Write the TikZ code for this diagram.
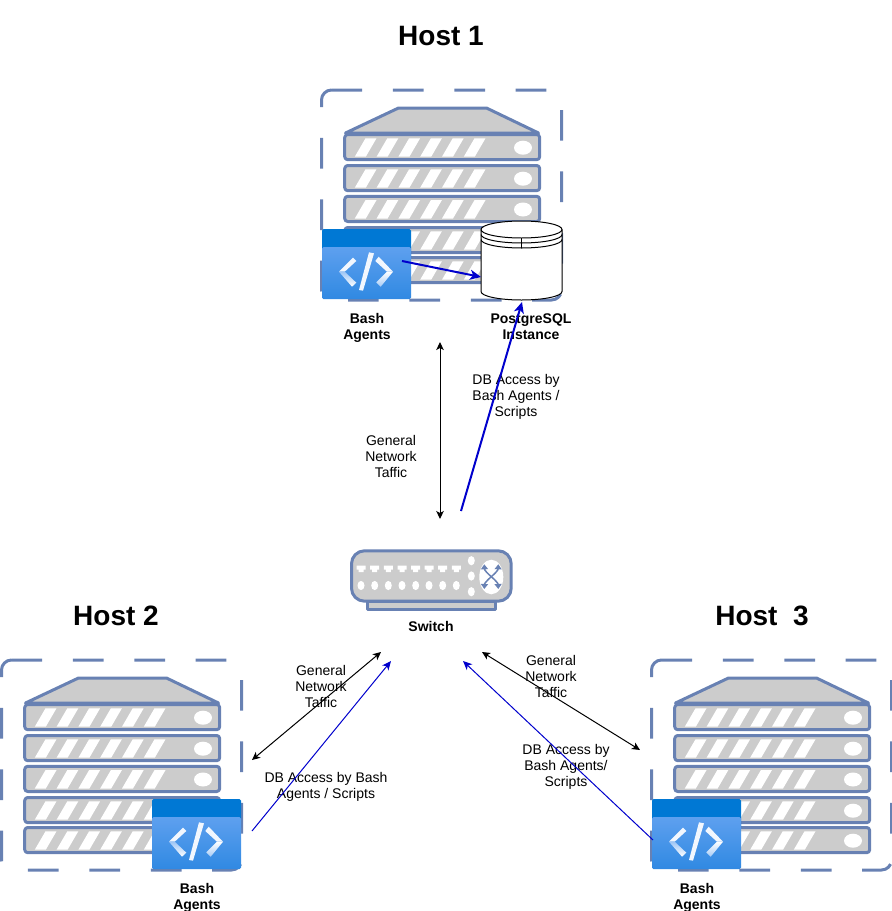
\documentclass[tikz,border=0pt]{standalone}
\usepackage{fontspec}
\setmainfont{Liberation Sans}
\usetikzlibrary{arrows.meta}
\definecolor{rackblue}{HTML}{6881B3}
\definecolor{rackgrey}{HTML}{CCCCCC}
\definecolor{iconhead}{HTML}{0078D4}
\definecolor{icontop}{HTML}{5EA0EF}
\definecolor{iconlow}{HTML}{3089E2}
\definecolor{linkblue}{HTML}{0000CC}
\tikzset{
  x=1pt,y=-1pt,
  rackline/.style={draw=rackblue,line width=3pt,line join=round},
  unitbox/.style={rackline,fill=rackgrey,rounded corners=3pt},
  hostdash/.style={draw=rackblue,line width=3pt,dash pattern=on 30.7pt off 30.7pt},
  glyph/.style={fill=white!92!icontop},
  lbl/.style={font=\fontsize{14}{16}\selectfont,align=center,inner sep=0pt,text=black},
  blbl/.style={lbl,font=\fontsize{14}{16}\selectfont\bfseries},
  title/.style={font=\fontsize{28}{32}\selectfont\bfseries,inner sep=0pt},
  netarrow/.style={draw=black,line width=1pt,{Stealth[length=8pt,width=7.5pt,inset=2pt]}-{Stealth[length=8pt,width=7.5pt,inset=2pt]}},
  dbthick/.style={draw=linkblue,line width=2pt,-{Stealth[length=11pt,width=10pt,inset=3pt]}},
  dbthin/.style={draw=linkblue,line width=1pt,-{Stealth[length=9pt,width=8pt,inset=2.5pt]}},
  crossarrow/.style={draw=rackblue,line width=1.5pt,-{Triangle[length=5pt,width=7pt]}},
  rackunit/.pic={
    \draw[unitbox] (23.2,0) rectangle (218.2,25.2);
    \foreach \i in {0,...,5}
      \fill[white] ({33.3+21.8*\i},22.2) -- ({44+21.8*\i},3.8) -- ({55+21.8*\i},3.8) -- ({44.3+21.8*\i},22.2) -- cycle;
    \fill[white] (201.5,13.2) ellipse [x radius=9pt,y radius=7pt];
  },
  hostrack/.pic={
    \draw[hostdash] (10,0) -- (230,0) .. controls (235.5,0) and (240,4.5) .. (240,10)
      -- (240,200) .. controls (240,205.5) and (235.5,210) .. (230,210)
      -- (10,210) .. controls (4.5,210) and (0,205.5) .. (0,200)
      -- (0,10) .. controls (0,4.5) and (4.5,0) .. (10,0);
    \draw[rackline,fill=rackgrey] (24,43) -- (77,18) -- (165,18) -- (217,43) -- cycle;
    \pic at (0,44.5) {rackunit};
    \pic at (0,75.5) {rackunit};
    \pic at (0,106.3) {rackunit};
    \pic at (0,137.5) {rackunit};
    \pic at (0,167.5) {rackunit};
  },
  codeicon/.pic={
    \fill[iconhead,rounded corners=1.5pt] (0,0) rectangle (89,30);
    \shade[top color=icontop,middle color=icontop!92!iconlow,bottom color=iconlow,rounded corners=1.5pt] (0,18) -- (89,18) -- (89,70) -- (0,70) -- cycle;
    % left chevron
    \fill[glyph] (17,42.7) -- (31,28.7) -- (34.3,32) -- (22.7,42.7) -- cycle;
    \shade[top color=icontop!60!white,bottom color=white]
      (17,42.7) -- (22.7,42.7) -- (34.3,53.7) -- (30,57.7) -- cycle;
    % slash
    \fill[glyph] (47,23.3) -- (52,24.3) -- (41,61.7) -- (37,61) -- cycle;
    % right chevron
    \fill[glyph] (71,42.7) -- (56.7,27.7) -- (53.3,32) -- (65,42.7) -- cycle;
    \shade[top color=white,bottom color=icontop!55!white]
      (71,42.7) -- (65,42.7) -- (54.3,53.3) -- (58.7,57.7) -- cycle;
  },
  porttab/.pic={
    \fill[white] (-4.5,0) -- (4.5,0) -- (4.5,4) -- (2.5,4) -- (2.5,6.5) -- (-2.5,6.5) -- (-2.5,4) -- (-4.5,4) -- cycle;
    \fill[white] (0,20) ellipse [x radius=3.5pt,y radius=4.6pt];
  },
}
\begin{document}
\begin{tikzpicture}
\useasboundingbox (0,0) rectangle (892,911);

% host 1
\pic at (321.5,90) {hostrack};
\pic at (322,229) {codeicon};
% database
\draw[black,line width=1pt,fill=white] (481,229.5) -- (481,291.5)
  .. controls (481,296.2) and (499,300) .. (521.5,300)
  .. controls (544,300) and (562,296.2) .. (562,291.5) -- (562,229.5)
  .. controls (562,224.8) and (544,221) .. (521.5,221)
  .. controls (499,221) and (481,224.8) .. (481,229.5) -- cycle;
\draw[black,line width=1pt]
  (481,229.5) .. controls (481,234.2) and (499,238) .. (521.5,238) .. controls (544,238) and (562,234.2) .. (562,229.5)
  (481,234.5) .. controls (481,239.2) and (499,243) .. (521.5,243) .. controls (544,243) and (562,239.2) .. (562,234.5)
  (481,239.5) .. controls (481,244.2) and (499,248) .. (521.5,248) .. controls (544,248) and (562,244.2) .. (562,239.5);
\draw[black,line width=.4pt] (521.5,238) -- (521.5,248);

% host 2 and 3
\pic at (1.5,660) {hostrack};
\pic at (152,799) {codeicon};
\pic at (651.5,660) {hostrack};
\pic at (652,799) {codeicon};

% switch
\draw[rackline,fill=rackgrey] (367.5,601) rectangle (495.2,609.7);
\draw[rackline,fill=rackgrey,rounded corners=13pt] (351.5,550.8) rectangle (511.2,601.2);
\foreach \x in {361,374.7,388.3,402,415.7,429,442.7,456.3}
  \pic at (\x,565.5) {porttab};
\foreach \y in {560.7,576,591.7}
  \fill[white] (471.3,\y) ellipse [x radius=3.5pt,y radius=4.6pt];
\fill[white] (491.3,577) ellipse [x radius=12pt,y radius=17.3pt];
\coordinate (xc) at (491.3,576.7);
\coordinate (xa) at (484.3,564.3);
\coordinate (xb) at (498.3,564.3);
\coordinate (xd) at (484.3,589);
\coordinate (xe) at (498.3,589);
\draw[crossarrow] (xc) .. controls (487,573) and (484.5,570) .. (xa);
\draw[crossarrow] (xc) .. controls (495.6,573) and (498.1,570) .. (xb);
\draw[crossarrow] (xc) .. controls (487,580.4) and (484.5,583.4) .. (xd);
\draw[crossarrow] (xc) .. controls (495.6,580.4) and (498.1,583.4) .. (xe);

% titles
\node[title] (t1) at (441,36) {Host 1};
\node[title] (t2) at (116,616) {Host 2};
\node[title] (t3) at (762,616) {Host\ \ 3};

% labels
\node[blbl] (agent1) at (367,327.5) {Bash\\Agents};
\node[blbl] (pg) at (531,327) {PostgreSQL\\Instance};
\node[blbl] (sw) at (431,626) {Switch};
\node[blbl] (agent2) at (197,897.5) {Bash\\Agents};
\node[blbl] (agent3) at (697,897.5) {Bash\\Agents};
\node[lbl] (n1) at (391,456) {General\\Network\\Taffic};
\node[lbl] (d1) at (516,397) {DB Access by\\Bash Agents /\\Scripts};
\node[lbl] (n2) at (321,686) {General\\Network\\Taffic};
\node[lbl] (d2) at (326,787) {DB Access by Bash\\Agents / Scripts};
\node[lbl] (n3) at (551,676) {General\\Network\\Taffic};
\node[lbl] (d3) at (566,767) {DB Access by\\Bash Agents/\\Scripts};

% connector end points
\coordinate (a1) at (440,342);  \coordinate (a2) at (440,519);
\coordinate (b1) at (381,652);  \coordinate (b2) at (252,760);
\coordinate (c1) at (482,652);  \coordinate (c2) at (640,750);
\coordinate (e1) at (402,261);  \coordinate (e2) at (481,277);
\coordinate (f1) at (461,511);  \coordinate (f2) at (522,302);
\coordinate (g1) at (252,831);  \coordinate (g2) at (391,661);
\coordinate (h1) at (653,840);  \coordinate (h2) at (463,661);

\draw[netarrow] (a1) -- (a2);
\draw[netarrow] (b1) -- (b2);
\draw[netarrow] (c1) -- (c2);
\draw[dbthick] (e1) -- (e2);
\draw[dbthick] (f1) -- (f2);
\draw[dbthin] (g1) -- (g2);
\draw[dbthin] (h1) -- (h2);
\end{tikzpicture}
\end{document}
